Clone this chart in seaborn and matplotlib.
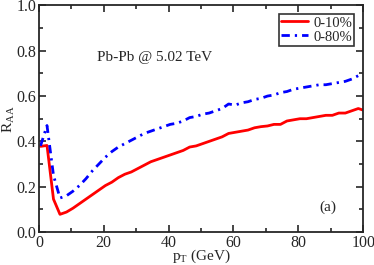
import matplotlib
matplotlib.use("Agg")
import matplotlib.pyplot as plt
from matplotlib.ticker import MultipleLocator
import seaborn as sns
import pandas as pd

pt = [0.5, 2.5, 4.5, 6.5, 8.5, 10.5, 12.5, 14.5, 16.5, 18.5, 20.5, 22.5, 24.5,
      26.5, 28.5, 30.5, 32.5, 34.5, 36.5, 38.5, 40.5, 42.5, 44.5, 46.5, 48.5,
      50.5, 52.5, 54.5, 56.5, 58.5, 60.5, 62.5, 64.5, 66.5, 68.5, 70.5, 72.5,
      74.5, 76.5, 78.5, 80.5, 82.5, 84.5, 86.5, 88.5, 90.5, 92.5, 94.5, 96.5,
      98.5, 100.0]

raa_central = [0.378, 0.382, 0.145, 0.078, 0.088, 0.105, 0.125, 0.145, 0.165,
               0.185, 0.205, 0.22, 0.24, 0.255, 0.265, 0.28, 0.295, 0.31, 0.32,
               0.33, 0.34, 0.35, 0.36, 0.375, 0.38, 0.39, 0.40, 0.41, 0.42,
               0.435, 0.44, 0.445, 0.45, 0.46, 0.465, 0.468, 0.475, 0.475,
               0.49, 0.495, 0.50, 0.50, 0.505, 0.51, 0.515, 0.515, 0.525,
               0.525, 0.535, 0.545, 0.538]

raa_minbias = [0.38, 0.47, 0.25, 0.15, 0.16, 0.18, 0.205, 0.235, 0.27, 0.30,
               0.33, 0.355, 0.375, 0.39, 0.405, 0.42, 0.435, 0.445, 0.455,
               0.465, 0.475, 0.48, 0.49, 0.505, 0.51, 0.52, 0.525, 0.535,
               0.545, 0.565, 0.56, 0.57, 0.575, 0.585, 0.59, 0.60, 0.605,
               0.615, 0.62, 0.63, 0.635, 0.64, 0.645, 0.65, 0.65, 0.655, 0.66,
               0.665, 0.675, 0.69, 0.69]

labels = ["0-10%", "0-80%"]

df = pd.concat([
    pd.DataFrame({"pt": pt, "raa": raa_central, "cent": labels[0]}),
    pd.DataFrame({"pt": pt, "raa": raa_minbias, "cent": labels[1]}),
])

sns.set_style("ticks")
plt.rcParams["font.family"] = ["Liberation Serif", "DejaVu Serif"]
plt.rcParams["mathtext.fontset"] = "custom"
plt.rcParams["mathtext.rm"] = "Liberation Serif"
plt.rcParams["mathtext.it"] = "Liberation Serif"

fig = plt.figure(figsize=(3.74, 2.65), dpi=100)
ax = fig.add_axes([0.104, 0.1245, 0.867, 0.855])

sns.lineplot(data=df, x="pt", y="raa", hue="cent", style="cent",
             palette={labels[0]: "red", labels[1]: "blue"},
             dashes={labels[0]: "", labels[1]: (3, 1.8, 0.8, 1.8)},
             linewidth=2, ax=ax)

ax.set_xlim(0, 100)
ax.set_ylim(0, 1.0)
ax.xaxis.set_major_locator(MultipleLocator(20))
ax.xaxis.set_minor_locator(MultipleLocator(10))
ax.yaxis.set_major_locator(MultipleLocator(0.2))
ax.yaxis.set_minor_locator(MultipleLocator(0.1))
ax.tick_params(which="both", direction="in", top=True, right=True,
               labelsize=11.5, width=1.2, pad=2)
ax.tick_params(which="major", length=5)
ax.tick_params(which="minor", length=3)
for s in ax.spines.values():
    s.set_linewidth(1.3)

ax.set_xlabel(r"p$_{\rm T}$ (GeV)", fontsize=11)
ax.set_ylabel(r"R$_{\rm AA}$", fontsize=11)
ax.xaxis.label.set_va("center")
ax.yaxis.label.set_va("center")
ax.xaxis.set_label_coords(0.5, -0.108)
ax.yaxis.set_label_coords(-0.092, 0.5)

ax.text(17.8, 0.77, "Pb-Pb @ 5.02 TeV", fontsize=11, va="center")
ax.text(86.5, 0.11, "(a)", fontsize=11, va="center")

leg = ax.legend(loc="upper right", fontsize=10.5, frameon=True, fancybox=False,
                edgecolor="black", handlelength=1.8, borderpad=0.15,
                labelspacing=0.05, handletextpad=0.4, borderaxespad=0.6)
leg.get_frame().set_linewidth(1.2)

fig.savefig("out.png", dpi=100)
